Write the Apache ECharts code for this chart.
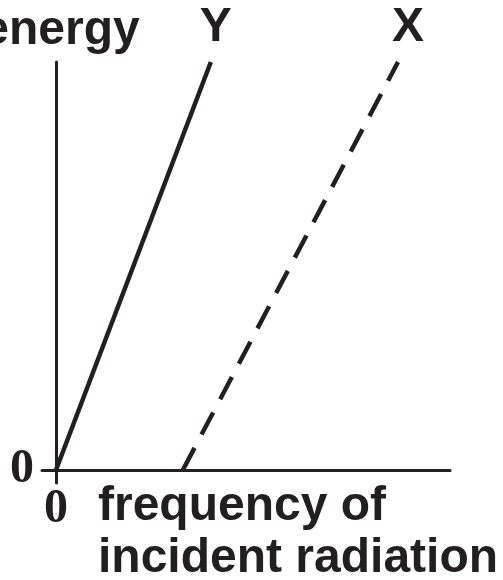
<!DOCTYPE html>
<html>
<head>
<meta charset="utf-8">
<script src="https://cdn.jsdelivr.net/npm/echarts@6/dist/echarts.min.js"></script>
<style>
  html, body { margin: 0; padding: 0; background: #fff; }
  #chart { width: 503px; height: 580px; }
</style>
</head>
<body>
<div id="chart"></div>
<script>
// energy against frequency, two lines starting at their threshold
var lineY = [[0, 0], [3.93, 10]];
var lineX = [[3.22, 0], [8.68, 10]];
var seriesNames = ['Y', 'X'];
var xTicks = [0];
var yTicks = [0];

var ink = '#231f20';
var chart = echarts.init(document.getElementById('chart'));

function lastLabel(data, name, offset) {
    return data.map(function (d, i) {
        if (i < data.length - 1) return d;
        return {
            value: d,
            label: {
                show: true, position: 'top', formatter: name, distance: 10, offset: offset,
                color: ink, fontFamily: 'Liberation Sans', fontWeight: 'bold', fontSize: 48
            }
        };
    });
}

// axes run a little below zero so the two axis lines cross at the origin
var option = {
    animation: false,
    grid: { left: 42, right: 53, top: 62, bottom: 97, containLabel: false, outerBoundsMode: 'none' },
    xAxis: {
        type: 'value', min: -0.355, max: 10,
        splitLine: { show: false },
        axisLine: { show: true, onZero: true, lineStyle: { color: ink, width: 3 } },
        axisTick: { show: false },
        axisLabel: {
            customValues: xTicks, margin: 3, color: ink,
            fontFamily: 'Liberation Serif', fontWeight: 'bold', fontSize: 48
        }
    },
    yAxis: {
        type: 'value', min: -0.32, max: 10,
        name: 'energy', nameLocation: 'end', nameGap: 7,
        nameTextStyle: { color: ink, fontFamily: 'Liberation Sans', fontWeight: 'bold', fontSize: 48, align: 'center', padding: [0, 0, 0, 10] },
        splitLine: { show: false },
        axisLine: { show: true, onZero: true, lineStyle: { color: ink, width: 3 } },
        axisTick: { show: false },
        axisLabel: {
            customValues: yTicks, margin: 8, color: ink,
            fontFamily: 'Liberation Serif', fontWeight: 'bold', fontSize: 48
        }
    },
    graphic: [{
        type: 'text', left: 98, top: 481,
        style: {
            text: 'frequency of\nincident radiation', fill: ink,
            font: 'bold 48px "Liberation Sans"', lineHeight: 52
        }
    }],
    series: [{
        name: seriesNames[0], type: 'line', data: lastLabel(lineY, seriesNames[0], [5, 0]),
        symbol: 'circle', symbolSize: 0, showSymbol: true, lineStyle: { color: ink, width: 4.5 }
    }, {
        name: seriesNames[1], type: 'line', data: lastLabel(lineX, seriesNames[1], [10, 0]),
        symbol: 'circle', symbolSize: 0, showSymbol: true, lineStyle: { color: ink, width: 4.5, type: [25, 15] }
    }]
};
chart.setOption(option);
</script>
</body>
</html>
